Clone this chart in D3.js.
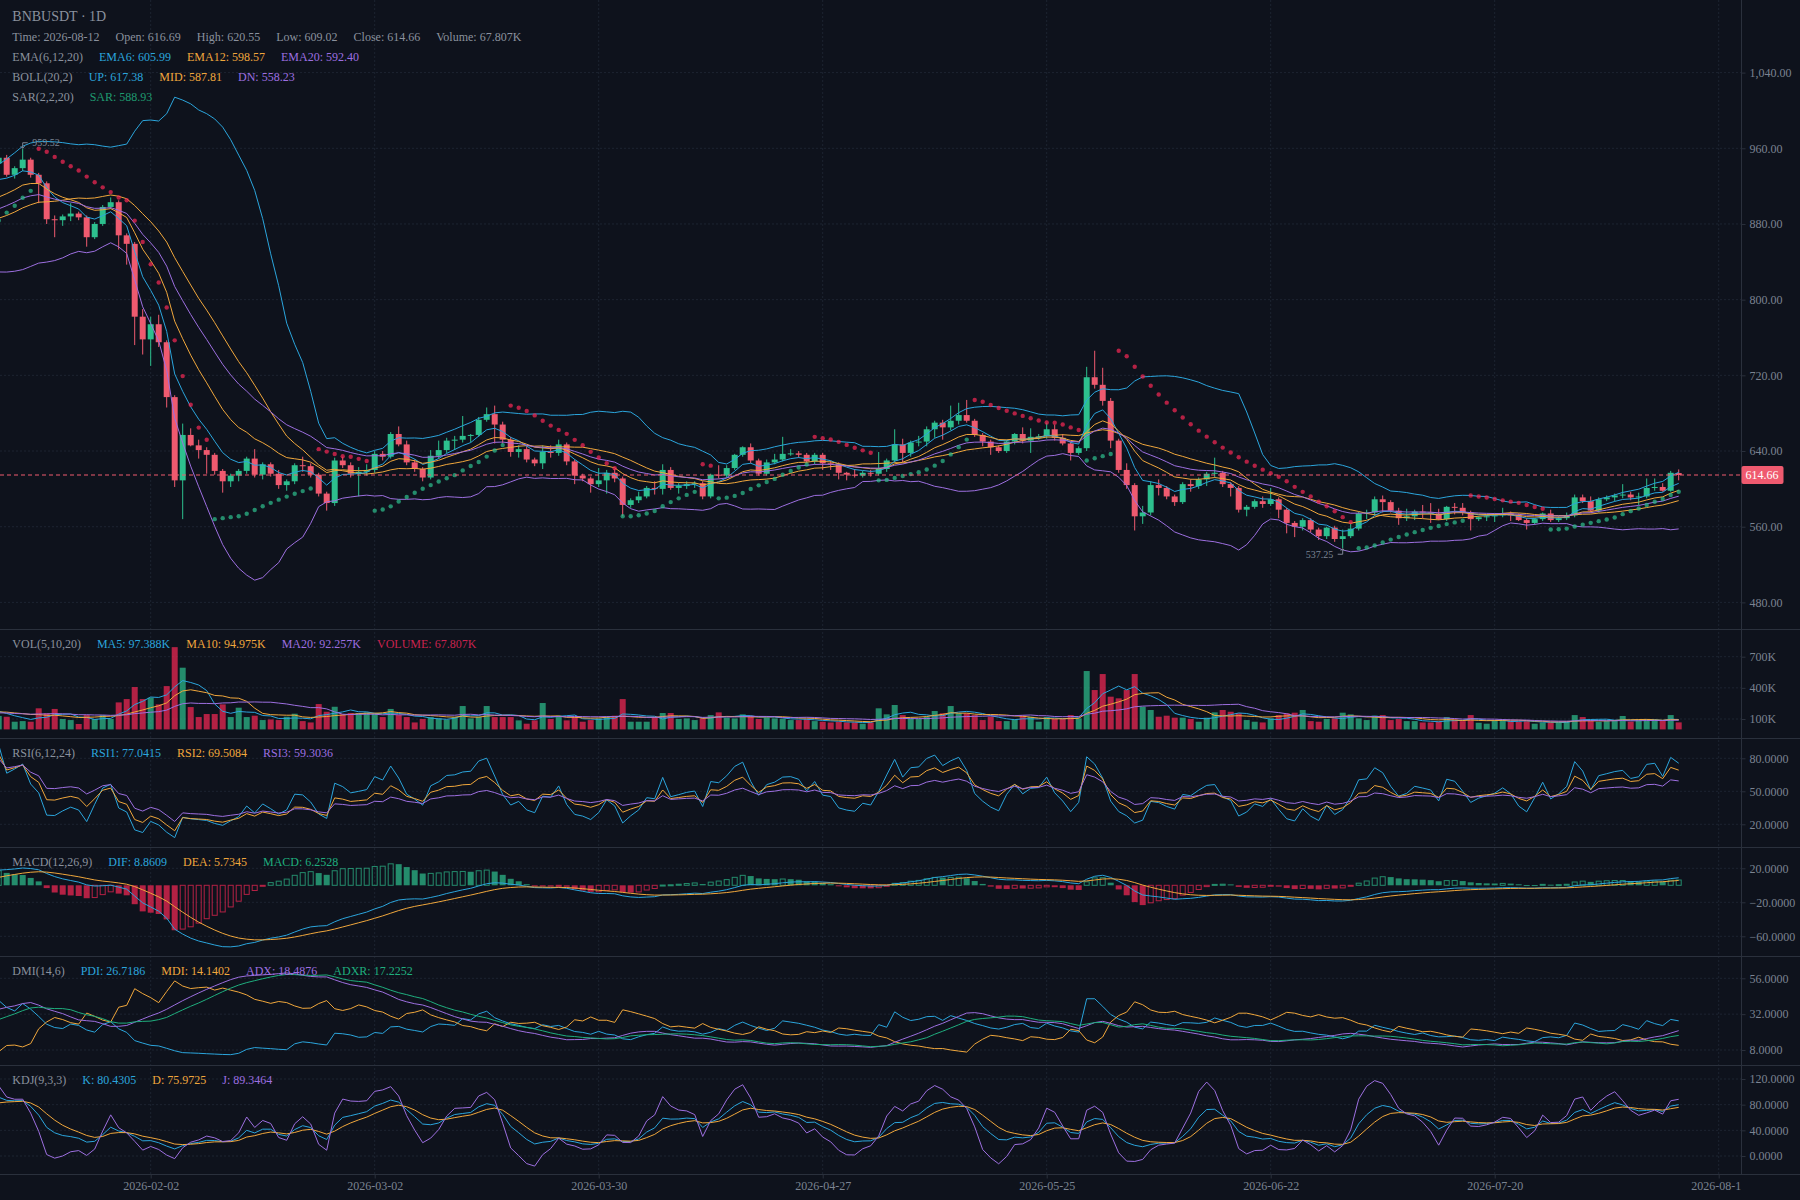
<!DOCTYPE html>
<html><head><meta charset="utf-8">
<script src="https://cdn.jsdelivr.net/npm/d3@7"></script>
<style>
html,body{margin:0;padding:0;background:#0e121c;}
svg{display:block;}
</style></head><body>
<svg id="chart" width="1800" height="1200"></svg>
<script>
// ---------------- DATA ----------------
const symbolTitle = "BNBUSDT · 1D";
const firstDateUTC = [2025, 11, 5];          // first (off-screen) candle
const viewStartUTC = [2026, 0, 14];
const viewEndUTC = [2026, 7, 17];
const dateTicks = ["2026-02-02","2026-03-02","2026-03-30","2026-04-27","2026-05-25","2026-06-22","2026-07-20","2026-08-17"];

// off-screen history (before the visible range)
const preOpens  = [855,858,863,861,867,872,868,864,860,866, 862,866,872,877,871,866,862,869,875,870,864,868,873,866,861,865,870,876,872,867,863,869,874,870,866,872,895,912,925,931];
const preHighs  = [861,866,866,870,876,874,870,865,869,868, 869,876,881,879,874,870,872,879,878,872,871,877,875,869,868,874,880,878,874,868,872,878,876,871,875,899,917,929,936,947];
const preLows   = [851,855,858,858,864,865,861,857,857,859, 857,863,869,868,863,858,860,866,867,861,861,865,863,857,858,863,867,869,864,860,860,866,867,862,863,870,892,909,921,928];
const preCloses = [858,863,861,867,872,868,864,860,866,862, 866,872,877,871,866,862,869,875,870,864,868,873,866,861,865,870,876,872,867,863,869,874,870,866,872,895,912,925,931,944];
const preVolumesK = [140,155,128,162,147,133,170,151,139,158, 150,132,168,141,155,120,138,176,149,160,128,144,171,135,152,163,140,129,158,147,166,137,153,145,159,210,230,185,170,160];

// visible candles 2026-01-14 .. 2026-08-12
const visOpens = [
944,950,932,939,948,932,923,885,884,888,
891,887,866,880,898,903,868,859,782,758,
774,755,697,609,657,646,641,636,619,608,
614,619,632,615,626,616,604,608,625,624,
615,595,585,630,625,616,618,620,637,634,
658,647,628,621,612,635,641,651,652,656,
657,673,679,668,652,639,642,631,627,639,
638,647,629,614,611,605,609,617,611,583,
588,592,601,600,620,601,603,605,606,592,
615,614,622,636,644,630,616,628,631,637,
637.5,636,629,636,627,626,617,615,614,617,
616,621,630,647,638,649,650,663,670,665,
672,678,672,657,650,644,640,650,658,651,
655,655.5,663,654,648,638,643,718,710,693,
651,620,604,571,575,604,601,592,586,605,
603,610,616,617,605,601,578,581,587,584,
589,578,564,560,567,557,550,559,547,550,
558,574,575,589,586,577,569,571,576,575,
574,568,581,580,575,568,570,571,572,574,
572,567,564,568,574,567,569,572,591,587,
577,589,591,593,594,591,592,601,602,598,
616.69];
const visHighs = [
952,953,941,959.52,950,934,925,889,890,902,
893,889,882,900,908,905,870,861,790,782,
784,757,699,669,664,652,644,638,621,616,
621,634,642,628,628,620,610,627,634,627,
617,597,633,634,628,623,626,640,640,660,
666,651,631,623,641,651,654,656,677,658,
676,686,688,671,655,646,645,633,646,646,
652,649,631,616,613,622,620,621,613,590,
597,603,608,626,623,606,608,608,608,616,
625,625,637,645,648,632,631,637,655,642,
640,638,638,638,630,628,618,621,619,620,
639,632,663,653,651,656,666,672,673,688,
691,694,674,659,652,646,652,659,665,664,
658,670,668,658,650,645,729,746,728,696,
653,627,606,582,608,610,603,594,607,610,
612,618,633,619,607,603,583,589,592,601,
591,580,566,569,569,559,560,561,557,563,
576,578,592,593,588,580,579,578,583,585,
579,582,585,585,577,571,573,574,580,576,
574,569,569,575,578,571,575,594,594,592,
591,593,595,605,597,596,611,611,606,619,
620.55];
const visLows = [
940,930,928,936,929,902,880,866,878,883,
884,856,864,878,896,853,837,752,742,730,
750,686,602,568,645,632,616,615,596,602,
608,616,612,610,613,600,598,605,618,612,
592,577,582,622,612,592,614,617,630,632,
645,625,618,608,610,632,638,641,649,649,
655,671,648,648,634,633,628,624,621,633,
635,625,605,608,596,602,595,607,571,580,
585,590,594,594,599,595,600,601,589,590,
611,612,620,634,627,614,614,626,629,635,
633,627,626,620,620,610,609,612,612,613,
614,618,628,628,634,645,645,654,652,662,
668,670,655,645,636,638,638,647,648,638,
652,653,651,646,630,636,640,706,688,643,
617,600,556,563,572,593,589,582,584,597,
600,603,612,602,592,575,571,579,580,582,
569,553,549,556,554,546,547,544,537.25,548,
556,568,572,575,575,562,566,567,569,564,
567,566,573,572,556,566,566,565,570,566,
566,557,562,566,565,565,567,570,585,575,
575,587,587,590,588,583,590,598,597,597,
609.02];
const visCloses = [
950,932,939,948,932,923,885,884,888,891,
887,866,880,898,903,868,859,782,758,774,
755,697,609,657,646,641,636,619,608,614,
619,632,615,626,616,604,608,625,624,615,
595,585,630,625,616,618,620,637,634,658,
647,628,621,612,635,641,651,652,656,657,
673,679,668,652,639,642,631,627,639,638,
647,629,614,611,605,609,617,611,583,588,
592,601,600,620,601,603,605,606,592,615,
614,622,636,644,630,616,628,631,637,637.5,
636,629,636,627,626,617,615,614,617,616,
621,630,647,638,649,650,663,670,665,672,
678,672,657,650,644,640,650,658,651,655,
655.5,663,654,648,638,643,718,710,693,651,
620,604,571,575,604,601,592,586,605,603,
610,616,617,605,601,578,581,587,584,589,
578,564,560,567,557,550,559,547,550,558,
574,575,589,586,577,569,571,576,575,574,
568,581,580,575,568,570,571,572,574,572,
567,564,568,574,567,569,572,591,587,577,
589,591,593,594,591,592,601,602,598,617,
614.66];
const visVolumesK = [
130,122,74,80,74,203,155,197,100,90,
52,138,100,138,100,260,292,408,292,305,
241,417,792,594,215,119,148,148,241,119,
209,119,132,90,96,90,122,151,80,67,
244,170,218,145,158,158,164,151,119,197,
138,119,67,100,119,106,93,119,225,106,
122,225,119,119,119,87,55,87,254,100,
132,87,119,74,90,106,122,132,292,74,
74,74,119,158,158,100,106,90,106,138,
164,113,106,145,132,100,113,106,100,90,
90,100,80,74,67,74,67,67,55,67,
203,145,235,138,106,100,122,177,155,225,
155,155,138,90,122,80,80,96,132,122,
74,119,100,100,138,106,562,379,533,315,
299,379,533,219,187,122,132,113,113,100,
74,113,164,187,170,155,90,74,67,106,
138,155,161,187,80,74,100,106,161,145,
106,90,132,138,90,100,80,80,67,67,
74,119,96,80,138,64,55,90,90,80,
74,80,55,67,67,67,74,138,119,80,
74,80,90,129,74,90,90,90,87,138,
67.807];

// tick values
const priceTicks = [480,560,640,720,800,880,960,1040];
const volTicks = [100,400,700];
const rsiTicks = [20,50,80];
const macdTicks = [-60,-20,20];
const dmiTicks = [8,32,56];
const kdjTicks = [0,40,80,120];

// legend texts
const infoLine   = ["Time: 2026-08-12","Open: 616.69","High: 620.55","Low: 609.02","Close: 614.66","Volume: 67.807K"];
const emaLegend  = ["EMA(6,12,20)","EMA6: 605.99","EMA12: 598.57","EMA20: 592.40"];
const bollLegend = ["BOLL(20,2)","UP: 617.38","MID: 587.81","DN: 558.23"];
const sarLegend  = ["SAR(2,2,20)","SAR: 588.93"];
const volLegend  = ["VOL(5,10,20)","MA5: 97.388K","MA10: 94.975K","MA20: 92.257K","VOLUME: 67.807K"];
const rsiLegend  = ["RSI(6,12,24)","RSI1: 77.0415","RSI2: 69.5084","RSI3: 59.3036"];
const macdLegend = ["MACD(12,26,9)","DIF: 8.8609","DEA: 5.7345","MACD: 6.2528"];
const dmiLegend  = ["DMI(14,6)","PDI: 26.7186","MDI: 14.1402","ADX: 18.4876","ADXR: 17.2252"];
const kdjLegend  = ["KDJ(9,3,3)","K: 80.4305","D: 75.9725","J: 89.3464"];

// ---------------- SETUP ----------------
const FONT = '"Liberation Serif","Times New Roman",serif';
const C = {bg:'#0e121c', grid:'#1d2431', sep:'#2a303c', axisText:'#7b8391', label:'#8a919d',
  cyan:'#2ba5dc', orange:'#f0a73c', purple:'#9d6fe0', green:'#1fae7e',
  up:'#2dc08e', down:'#ef5a6f', upA:'rgba(45,192,142,0.7)', downA:'rgba(249,40,85,0.7)', mark:'#7d8594'};
const W = 1800, H = 1200, PR = 1741;

const opens = preOpens.concat(visOpens), highs = preHighs.concat(visHighs),
      lows = preLows.concat(visLows), closes = preCloses.concat(visCloses),
      volumes = preVolumesK.concat(visVolumesK);
const N = closes.length, V0 = preCloses.length;
const firstDate = new Date(Date.UTC(...firstDateUTC));
const dates = closes.map((_, k) => d3.utcDay.offset(firstDate, k));

const svg = d3.select('#chart').attr('font-family', FONT);
svg.append('rect').attr('width', W).attr('height', H).attr('fill', C.bg);
const defs = svg.append('defs');

const x = d3.scaleUtc().domain([new Date(Date.UTC(...viewStartUTC)), new Date(Date.UTC(...viewEndUTC))]).range([-1.3, 1718.7]);

const P = {main:[0,629], vol:[629,738], rsi:[738,847], macd:[847,956], dmi:[956,1065], kdj:[1065,1174]};
const yMain = d3.scaleLinear().domain([480,1040]).range([602.4,72.6]);
const yVol  = d3.scaleLinear().domain([0,700]).range([729.4,656.7]);
const yRsi  = d3.scaleLinear().domain([20,80]).range([824.3,758.3]);
const yMacd = d3.scaleLinear().domain([-60,20]).range([936.3,868.3]);
const yDmi  = d3.scaleLinear().domain([8,56]).range([1050,978.3]);
const yKdj  = d3.scaleLinear().domain([0,120]).range([1156,1079]);

// ---------------- INDICATORS ----------------
function ema(vals, p){ const out=[]; let s=0, e=null; vals.forEach((v,i)=>{ s+=v; if(i>=p-1){ e = i>p-1 ? (2*v+(p-1)*e)/(p+1) : s/p; out.push(e);} else out.push(null);}); return out; }
function ma(vals, p){ return vals.map((v,i)=> i>=p-1 ? d3.mean(vals.slice(i-p+1,i+1)) : null); }
const ema6 = ema(closes,6), ema12 = ema(closes,12), ema20 = ema(closes,20);
const bollMid = ma(closes,20);
const bollUp = [], bollDn = [];
closes.forEach((c,i)=>{ if(i>=19){ const w = closes.slice(i-19,i+1), m = bollMid[i];
  const sd = Math.sqrt(d3.mean(w.map(v=>(v-m)*(v-m)))); bollUp.push(m+2*sd); bollDn.push(m-2*sd);} else {bollUp.push(null); bollDn.push(null);} });
// SAR
const sarVals = (()=>{ const sA=0.02, st=0.02, mx=0.2; let af=sA, ep=-100, inc=false, sar=0; const out=[];
  for(let i=0;i<N;i++){ const pre=sar, h=highs[i], l=lows[i];
    if(inc){ if(ep===-100||ep<h){ep=h; af=Math.min(af+st,mx);} sar=pre+af*(ep-pre);
      const lm=Math.min(lows[Math.max(1,i)-1], l);
      if(sar>l){ sar=ep; af=sA; ep=-100; inc=!inc; } else if(sar>lm) sar=lm;
    } else { if(ep===-100||ep>l){ep=l; af=Math.min(af+st,mx);} sar=pre+af*(ep-pre);
      const hm=Math.max(highs[Math.max(1,i)-1], h);
      if(sar<h){ sar=ep; af=0; ep=-100; inc=!inc; } else if(sar<hm) sar=hm; }
    out.push(sar); }
  return out; })();
// volume MAs
const vma5 = ma(volumes,5), vma10 = ma(volumes,10), vma20 = ma(volumes,20);
// RSI (smoothed averages of gains / losses)
function rsi(cl, p){ let ag=0, al=0; const out=[null];
  for(let i=1;i<cl.length;i++){ const d=cl[i]-cl[i-1], g=Math.max(d,0), l=Math.max(-d,0);
    if(i===1){ ag=g; al=l; } else { ag=(g+(p-1)*ag)/p; al=(l+(p-1)*al)/p; }
    out.push(i>=p ? (ag+al===0 ? 50 : 100*ag/(ag+al)) : null); }
  return out; }
const rsi1 = rsi(closes,6), rsi2 = rsi(closes,12), rsi3 = rsi(closes,24);
// MACD
const dif=[], dea=[], macdH=[];
(()=>{ let s=0, es, el, ds=0, d=0; closes.forEach((c,i)=>{ s+=c;
  if(i>=11) es = i>11 ? (2*c+11*es)/13 : s/12;
  if(i>=25) el = i>25 ? (2*c+25*el)/27 : s/26;
  if(i>=25){ const df = es-el; dif.push(df); ds+=df;
    if(i>=33){ d = i>33 ? (2*df+8*d)/10 : ds/9; dea.push(d); macdH.push((df-d)*2);} else {dea.push(null); macdH.push(null);}
  } else { dif.push(null); dea.push(null); macdH.push(null);} }); })();
// DMI
const pdi=[], mdi=[], adx=[], adxr=[];
(()=>{ let trS=0,hS=0,lS=0,mtr=0,dmp=0,dmm=0,dxS=0,ax=0; const p1=14,p2=6;
  for(let i=0;i<N;i++){ const pi=i>0?i-1:i; const pc=closes[pi];
    const tr=Math.max(highs[i]-lows[i], Math.abs(highs[i]-pc), Math.abs(pc-lows[i]));
    const hh=highs[i]-highs[pi], ll=lows[pi]-lows[i];
    const h=(hh>0&&hh>ll)?hh:0, l=(ll>0&&ll>hh)?ll:0;
    trS+=tr; hS+=h; lS+=l;
    let P1=null,M1=null,A1=null,R1=null;
    if(i>=p1-1){
      if(i>p1-1){ mtr=mtr-mtr/p1+tr; dmp=dmp-dmp/p1+h; dmm=dmm-dmm/p1+l; } else { mtr=trS; dmp=hS; dmm=lS; }
      P1 = mtr? dmp*100/mtr : 0; M1 = mtr? dmm*100/mtr : 0;
      const dx = (P1+M1)? Math.abs(M1-P1)/(P1+M1)*100 : 0;
      dxS+=dx;
      if(i>=p1*2-2){ ax = i>p1*2-2 ? (ax*(p1-1)+dx)/p1 : dxS/p1; A1=ax;
        if(adx[i-(p2-1)]!=null) R1=(adx[i-(p2-1)]+ax)/2; }
    }
    pdi.push(P1); mdi.push(M1); adx.push(A1); adxr.push(R1); } })();
// KDJ
const kK=[], kD=[], kJ=[];
(()=>{ let k=50, d=50; for(let i=0;i<N;i++){ if(i>=8){ const hn=d3.max(highs.slice(i-8,i+1)), ln=d3.min(lows.slice(i-8,i+1));
  const rsv = hn===ln?100:(closes[i]-ln)/(hn-ln)*100; k=(2*k+rsv)/3; d=(2*d+k)/3; kK.push(k); kD.push(d); kJ.push(3*k-2*d);} else {kK.push(null);kD.push(null);kJ.push(null);} } })();

// ---------------- DRAW ----------------
function clip(id, r){ defs.append('clipPath').attr('id',id).append('rect').attr('x',0).attr('y',r[0]).attr('width',PR).attr('height',r[1]-r[0]); return `url(#${id})`; }
const tickDates = dateTicks.map(s=>d3.utcParse('%Y-%m-%d')(s));

// grid
const gGrid = svg.append('g').attr('stroke', C.grid).attr('stroke-dasharray','2,2').attr('stroke-width',1);
gGrid.selectAll('line.v').data(tickDates).join('line').attr('x1',d=>x(d)).attr('x2',d=>x(d)).attr('y1',0).attr('y2',1174);
[[yMain,priceTicks],[yVol,volTicks],[yRsi,rsiTicks],[yMacd,macdTicks],[yDmi,dmiTicks],[yKdj,kdjTicks]].forEach(([s,t])=>{
  gGrid.append('g').selectAll('line').data(t).join('line').attr('x1',0).attr('x2',PR).attr('y1',d=>s(d)).attr('y2',d=>s(d)); });

// separators
svg.append('g').attr('stroke',C.sep).selectAll('line').data([629,738,847,956,1065,1174]).join('line')
  .attr('x1',0).attr('x2',W).attr('y1',d=>d+0.5).attr('y2',d=>d+0.5);
svg.append('line').attr('x1',PR+0.5).attr('x2',PR+0.5).attr('y1',0).attr('y2',1174).attr('stroke',C.sep);

function lineGen(y){ return d3.line().defined(v=>v!=null && isFinite(v)).x((v,i)=>x(dates[i])).y(v=>y(v)); }
function drawLine(g, vals, y, color){ g.append('path').datum(vals).attr('d', lineGen(y)).attr('fill','none').attr('stroke',color).attr('stroke-width',1); }
const idx = d3.range(N);
const BW = 6;

// main panel
const gMain = svg.append('g').attr('clip-path', clip('cMain', P.main));
const candleColor = i => closes[i] > opens[i] ? C.up : (closes[i] < opens[i] ? C.down : '#888888');
gMain.append('g').selectAll('line').data(idx).join('line')
  .attr('x1',i=>x(dates[i])).attr('x2',i=>x(dates[i])).attr('y1',i=>yMain(highs[i])).attr('y2',i=>yMain(lows[i]))
  .attr('stroke',candleColor).attr('stroke-width',1);
gMain.append('g').selectAll('rect').data(idx).join('rect')
  .attr('x',i=>x(dates[i])-BW/2).attr('width',BW)
  .attr('y',i=>yMain(Math.max(opens[i],closes[i])))
  .attr('height',i=>Math.max(1, Math.abs(yMain(opens[i])-yMain(closes[i]))))
  .attr('fill',candleColor);
drawLine(gMain, bollUp, yMain, C.cyan);
drawLine(gMain, bollMid, yMain, C.orange);
drawLine(gMain, bollDn, yMain, C.purple);
drawLine(gMain, ema6, yMain, C.cyan);
drawLine(gMain, ema12, yMain, C.orange);
drawLine(gMain, ema20, yMain, C.purple);
gMain.append('g').selectAll('circle').data(idx).join('circle')
  .attr('cx',i=>x(dates[i])).attr('cy',i=>yMain(sarVals[i])).attr('r',2.2)
  .attr('fill',i=> sarVals[i] < (highs[i]+lows[i])/2 ? C.upA : C.downA);

// last price line
const lastClose = closes[N-1];
svg.append('line').attr('x1',0).attr('x2',PR).attr('y1',yMain(lastClose)).attr('y2',yMain(lastClose))
  .attr('stroke',C.down).attr('stroke-dasharray','4,3').attr('stroke-width',1);

// high / low marks over the visible range
(()=>{ let hi=V0, lo=V0; for(let i=V0;i<N;i++){ if(highs[i]>highs[hi]) hi=i; if(lows[i]<lows[lo]) lo=i; }
  const g = svg.append('g');
  [[hi,highs[hi],-1],[lo,lows[lo],1]].forEach(([i,v,dir])=>{
    const cx = x(dates[i]), cy = yMain(v), right = cx < PR/2, sx = right?1:-1;
    g.append('path').attr('d',`M${cx-2},${cy+dir*2.5}L${cx},${cy+dir*0.5}L${cx+2},${cy+dir*2.5}M${cx},${cy+dir*0.5}L${cx},${cy+dir*6}L${cx+sx*5},${cy+dir*6}`)
      .attr('fill','none').attr('stroke',C.mark).attr('stroke-width',1);
    g.append('text').attr('x',cx+sx*9.5).attr('y',cy+dir*6).attr('dy','0.35em').attr('text-anchor',right?'start':'end')
      .attr('font-size',10).attr('fill',C.mark).text(d3.format('.2f')(v));
  }); })();

// volume
const gVol = svg.append('g').attr('clip-path', clip('cVol', P.vol));
gVol.append('g').selectAll('rect').data(idx).join('rect')
  .attr('x',i=>x(dates[i])-BW/2).attr('width',BW).attr('y',i=>yVol(volumes[i])).attr('height',i=>yVol(0)-yVol(volumes[i]))
  .attr('fill',i=>closes[i]>opens[i]?C.upA:C.downA);
drawLine(gVol, vma5, yVol, C.cyan); drawLine(gVol, vma10, yVol, C.orange); drawLine(gVol, vma20, yVol, C.purple);

// RSI
const gRsi = svg.append('g').attr('clip-path', clip('cRsi', P.rsi));
drawLine(gRsi, rsi1, yRsi, C.cyan); drawLine(gRsi, rsi2, yRsi, C.orange); drawLine(gRsi, rsi3, yRsi, C.purple);

// MACD
const gMacd = svg.append('g').attr('clip-path', clip('cMacd', P.macd));
gMacd.append('g').selectAll('rect').data(idx.filter(i=>macdH[i]!=null)).join('rect')
  .each(function(i){ const m = macdH[i], prev = macdH[i-1]==null ? -Infinity : macdH[i-1];
    const col = m>0 ? C.upA : (m<0 ? C.downA : '#888'); const hollow = prev < m;
    const y0 = yMacd(Math.max(0,m)), y1 = yMacd(Math.min(0,m));
    const s = d3.select(this).attr('x', x(dates[i])-BW/2 + (hollow?0.5:0)).attr('width', hollow?BW-1:BW)
      .attr('y', y0).attr('height', Math.max(1, y1-y0));
    if(hollow) s.attr('fill','none').attr('stroke',col).attr('stroke-width',1); else s.attr('fill',col); });
drawLine(gMacd, dif, yMacd, C.cyan); drawLine(gMacd, dea, yMacd, C.orange);

// DMI
const gDmi = svg.append('g').attr('clip-path', clip('cDmi', P.dmi));
drawLine(gDmi, pdi, yDmi, C.cyan); drawLine(gDmi, mdi, yDmi, C.orange); drawLine(gDmi, adx, yDmi, C.purple); drawLine(gDmi, adxr, yDmi, C.green);

// KDJ
const gKdj = svg.append('g').attr('clip-path', clip('cKdj', P.kdj));
drawLine(gKdj, kK, yKdj, C.cyan); drawLine(gKdj, kD, yKdj, C.orange); drawLine(gKdj, kJ, yKdj, C.purple);

// right axes
function rightAxis(scale, ticks, fmt){
  const g = svg.append('g').attr('transform',`translate(${PR+0.5},0)`)
    .call(d3.axisRight(scale).tickValues(ticks).tickFormat(fmt).tickSize(4).tickPadding(4));
  g.attr('font-family',FONT).attr('font-size',12);
  g.select('.domain').remove();
  g.selectAll('line').attr('stroke',C.sep);
  g.selectAll('text').attr('fill',C.axisText);
}
rightAxis(yMain, priceTicks, d3.format(',.2f'));
rightAxis(yVol, volTicks, d=>d+'K');
rightAxis(yRsi, rsiTicks, d3.format('.4f'));
rightAxis(yMacd, macdTicks, d3.format('.4f'));
rightAxis(yDmi, dmiTicks, d3.format('.4f'));
rightAxis(yKdj, kdjTicks, d3.format('.4f'));

// bottom axis
defs.append('clipPath').attr('id','cX').append('rect').attr('x',0).attr('y',1174).attr('width',PR).attr('height',26);
const gX = svg.append('g').attr('clip-path','url(#cX)').append('g').attr('transform','translate(0,1174.5)')
  .call(d3.axisBottom(x).tickValues(tickDates).tickFormat(d3.utcFormat('%Y-%m-%d')).tickSize(4).tickPadding(3));
gX.attr('font-family',FONT).attr('font-size',12);
gX.select('.domain').remove();
gX.selectAll('line').attr('stroke',C.sep);
gX.selectAll('text').attr('fill',C.axisText);

// last price label
const lpY = yMain(lastClose);
svg.append('rect').attr('x',PR+0.5).attr('y',lpY-9).attr('width',42).attr('height',18).attr('rx',2).attr('fill',C.down);
svg.append('text').attr('x',PR+4.5).attr('y',lpY).attr('dy','0.35em').attr('font-size',12).attr('fill','#ffffff').text(d3.format('.2f')(lastClose));

// legends
function legend(yBase, items, colors){
  let cx = 12.3;
  items.forEach((t,k)=>{ const el = svg.append('text').attr('x',cx).attr('y',yBase).attr('font-size',12).attr('fill',colors[k]).text(t);
    cx += el.node().getComputedTextLength() + 16; });
}
svg.append('text').attr('x',12.3).attr('y',21).attr('font-size',14).attr('fill',C.label).text(symbolTitle);
legend(40.7, infoLine, infoLine.map(()=>C.label));
legend(60.7, emaLegend, [C.label,C.cyan,C.orange,C.purple]);
legend(80.7, bollLegend, [C.label,C.cyan,C.orange,C.purple]);
legend(100.7, sarLegend, [C.label,'#1f9a70']);
legend(648.3, volLegend, [C.label,C.cyan,C.orange,C.purple,'#c8234f']);
legend(757.3, rsiLegend, [C.label,C.cyan,C.orange,C.purple]);
legend(866.3, macdLegend, [C.label,C.cyan,C.orange,C.green]);
legend(975.3, dmiLegend, [C.label,C.cyan,C.orange,C.purple,C.green]);
legend(1084.3, kdjLegend, [C.label,C.cyan,C.orange,C.purple]);
</script>
</body></html>
